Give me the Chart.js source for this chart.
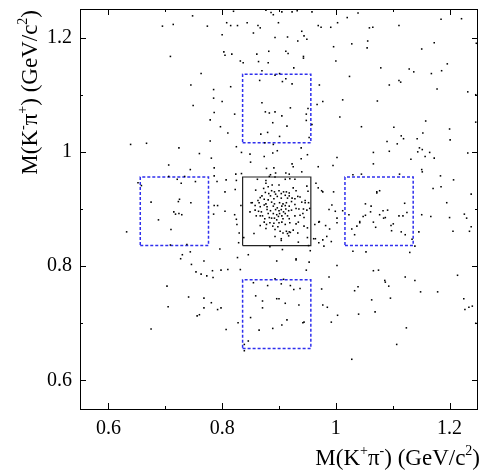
<!DOCTYPE html>
<html>
<head>
<meta charset="utf-8">
<script src="https://cdn.jsdelivr.net/npm/chart.js@4.4.1/dist/chart.umd.min.js"></script>
<style>
  html, body { margin: 0; padding: 0; background: #fff; }
</style>
</head>
<body>
<canvas id="c" width="482" height="470"></canvas>
<script>
// axis ranges and ticks
const axisMin = 0.55, axisMax = 1.25;
const majorTicks = [0.6, 0.8, 1.0, 1.2];
const majorLabels = ['0.6', '0.8', '1', '1.2'];
const minorTicks = [0.7, 0.9, 1.1];

// mass windows (GeV/c^2): signal and the two sidebands
const sigWin = [0.836, 0.956];
const loSide = [0.656, 0.776];
const hiSide = [1.016, 1.136];

// events [M(K+pi-), M(K-pi+)], grouped by area
const evUpperLeft = [
  [0.748,1.238],[0.820,1.246],[0.877,1.248],[0.886,1.244],[0.890,1.240],[0.695,1.220],[0.714,1.223],[0.774,1.220],
  [0.808,1.226],[0.815,1.221],[0.827,1.221],[0.844,1.226],[0.863,1.221],[0.867,1.217],[0.899,1.226],[0.855,1.208],
  [0.800,1.205],[0.893,1.200],[0.803,1.175],[0.805,1.169],[0.817,1.171],[0.861,1.171],[0.882,1.176],[0.709,1.167],
  [0.832,1.159],[0.837,1.156],[0.864,1.158],[0.881,1.156],[0.870,1.142],[0.763,1.137],[0.893,1.134],[0.866,1.125],
  [0.745,1.117],[0.815,1.114],[0.785,1.109],[0.785,1.094],[0.800,1.088],[0.870,1.086],[0.749,1.081],[0.786,1.069],
  [0.822,1.066],[0.876,1.070],[0.883,1.068],[0.893,1.070],[0.779,1.056],[0.889,1.051],[0.797,1.044],[0.810,1.033],
  [0.868,1.031],[0.880,1.034],[0.779,1.019],[0.639,1.013],[0.667,1.015],[0.724,1.007],[0.825,1.009],[0.875,1.016],
  [0.890,1.013],[0.760,0.997],[0.834,0.999],[0.849,0.996],[0.889,0.998],[0.897,1.002],[0.781,0.989],[0.874,0.992],
  [0.850,0.982],[0.706,0.977],[0.744,0.969],[0.786,0.972],[0.878,0.971],[0.891,0.972],[0.885,0.960],[0.894,0.963],
  [0.824,0.961],[0.834,0.962],[0.706,0.957],[0.734,0.957],[0.721,0.952],[0.786,0.958],[0.652,0.946],[0.658,0.941],
  [0.728,0.945],[0.753,0.948],[0.791,0.948],[0.807,0.951],[0.825,0.950],[0.805,0.930],[0.823,0.934],[0.675,0.912],
  [0.725,0.917],[0.723,0.913],[0.745,0.911],[0.786,0.906],[0.792,0.906],[0.833,0.906]
];
const evUpperRight = [
  [0.905,1.245],[0.923,1.245],[0.932,1.247],[0.958,1.245],[1.039,1.243],[1.020,1.235],[1.003,1.226],[0.969,1.221],
  [0.974,1.218],[0.991,1.218],[1.059,1.217],[1.065,1.218],[1.111,1.221],[1.185,1.232],[1.221,1.233],[0.940,1.211],
  [0.944,1.203],[0.949,1.197],[0.933,1.194],[0.915,1.201],[1.056,1.194],[1.028,1.189],[0.996,1.184],[1.055,1.182],
  [1.173,1.191],[1.151,1.180],[1.247,1.190],[0.912,1.176],[0.916,1.172],[0.943,1.167],[0.943,1.164],[1.000,1.159],
  [1.196,1.154],[0.926,1.147],[1.079,1.147],[1.129,1.145],[1.137,1.140],[1.168,1.137],[1.186,1.142],[0.901,1.137],
  [1.024,1.132],[0.912,1.128],[0.906,1.123],[0.923,1.119],[0.971,1.117],[1.094,1.117],[1.111,1.125],[1.114,1.122],
  [1.178,1.110],[1.232,1.105],[1.246,1.100],[1.012,1.091],[1.073,1.089],[0.977,1.088],[0.967,1.083],[0.920,1.077],
  [0.951,1.076],[0.948,1.066],[0.905,1.063],[1.007,1.061],[0.948,1.055],[0.958,1.048],[0.914,1.045],[1.045,1.044],
  [1.102,1.043],[1.158,1.054],[1.246,1.052],[1.200,1.040],[1.153,1.033],[1.115,1.028],[1.119,1.023],[1.090,1.018],
  [1.108,1.014],[1.143,1.023],[1.201,1.021],[0.901,1.027],[0.953,1.025],[0.939,1.007],[1.066,0.999],[1.094,1.001],
  [1.144,1.000],[1.147,1.007],[1.152,1.004],[1.165,0.999],[1.157,0.992],[1.173,0.989],[1.232,0.998],[0.950,0.995],
  [0.939,0.988],[1.002,0.990],[1.132,0.987],[0.923,0.979],[0.925,0.974],[0.969,0.974],[0.995,0.976],[1.066,0.979],
  [1.151,0.969],[1.152,0.965],[0.912,0.963],[0.918,0.961],[0.940,0.965],[1.030,0.960],[1.045,0.961],[1.112,0.961],
  [1.184,0.958],[1.207,0.951],[0.965,0.945],[0.969,0.937],[0.975,0.932],[0.977,0.930],[0.996,0.930],[1.072,0.930],
  [1.077,0.932],[1.072,0.928],[1.171,0.936],[1.185,0.939],[1.238,0.926],[0.993,0.907],[1.052,0.909],[1.062,0.905],
  [1.121,0.910],[1.195,0.911]
];
const evLowerLeft = [
  [0.785,0.891],[0.805,0.896],[0.822,0.890],[0.825,0.882],[0.826,0.873],[0.715,0.895],[0.718,0.891],[0.724,0.892],
  [0.729,0.890],[0.688,0.881],[0.632,0.860],[0.710,0.864],[0.830,0.858],[0.829,0.841],[0.709,0.837],[0.738,0.838],
  [0.796,0.830],[0.884,0.834],[0.744,0.825],[0.730,0.820],[0.727,0.813],[0.827,0.815],[0.846,0.820],[0.768,0.809],
  [0.896,0.809],[0.746,0.803],[0.754,0.790],[0.763,0.786],[0.773,0.783],[0.783,0.792],[0.798,0.793],[0.810,0.794],
  [0.832,0.794],[0.784,0.780],[0.893,0.778],[0.855,0.771],[0.880,0.766],[0.703,0.765],[0.741,0.746],[0.768,0.744],
  [0.859,0.748],[0.896,0.743],[0.871,0.739],[0.781,0.736],[0.705,0.729],[0.768,0.727],[0.798,0.727],[0.792,0.724],
  [0.871,0.727],[0.756,0.713],[0.760,0.715],[0.850,0.710],[0.828,0.701],[0.675,0.690],[0.807,0.689],[0.865,0.688],
  [0.889,0.691],[0.846,0.669],[0.839,0.663],[0.839,0.652]
];
const evLowerRight = [
  [0.988,0.899],[0.999,0.896],[1.012,0.897],[1.023,0.890],[1.048,0.887],[1.052,0.889],[1.061,0.895],[1.077,0.890],
  [1.083,0.897],[1.091,0.898],[1.084,0.884],[1.087,0.885],[1.111,0.888],[1.118,0.888],[1.125,0.894],[1.151,0.890],
  [1.167,0.887],[1.200,0.885],[1.226,0.891],[1.230,0.884],[1.002,0.884],[1.002,0.876],[0.970,0.877],[0.971,0.878],
  [0.963,0.873],[0.982,0.871],[1.042,0.878],[1.042,0.876],[1.037,0.870],[1.028,0.865],[1.066,0.877],[1.070,0.868],
  [1.097,0.871],[1.101,0.874],[1.098,0.862],[1.115,0.860],[1.122,0.855],[1.146,0.860],[1.206,0.861],[1.235,0.861],
  [1.238,0.869],[0.989,0.865],[0.984,0.852],[0.961,0.848],[0.964,0.848],[0.970,0.841],[0.977,0.846],[0.992,0.843],
  [0.979,0.835],[1.033,0.855],[1.134,0.847],[1.139,0.835],[1.030,0.826],[1.053,0.825],[1.130,0.824],[0.906,0.829],
  [0.955,0.827],[0.930,0.813],[0.930,0.811],[0.953,0.807],[1.002,0.801],[0.948,0.793],[1.066,0.792],[1.075,0.793],
  [1.122,0.781],[1.139,0.775],[1.214,0.784],[0.988,0.781],[1.086,0.775],[1.087,0.772],[1.093,0.765],[1.039,0.764],
  [1.033,0.757],[1.149,0.755],[1.179,0.755],[0.904,0.769],[0.920,0.766],[0.926,0.759],[0.937,0.761],[0.908,0.777],
  [0.975,0.760],[0.900,0.743],[0.911,0.735],[0.935,0.732],[0.977,0.732],[0.985,0.728],[1.063,0.741],[1.096,0.744],
  [1.225,0.743],[1.234,0.728],[1.227,0.724],[1.240,0.730],[1.069,0.720],[1.040,0.716],[1.003,0.714],[0.914,0.706],
  [0.905,0.697],[0.942,0.701],[0.944,0.702],[0.992,0.702],[1.124,0.692],[1.246,0.700],[1.107,0.663],[1.028,0.637]
];
// inside the signal box
const evSignal = [
  [0.862,0.952],[0.883,0.957],[0.893,0.956],[0.911,0.952],[0.919,0.953],[0.928,0.952],[0.877,0.950],[0.877,0.945],
  [0.881,0.939],[0.888,0.942],[0.900,0.942],[0.925,0.937],[0.949,0.940],[0.873,0.936],[0.859,0.933],[0.887,0.932],
  [0.892,0.930],[0.900,0.932],[0.908,0.930],[0.913,0.930],[0.918,0.928],[0.930,0.932],[0.951,0.931],[0.876,0.929],
  [0.882,0.927],[0.894,0.926],[0.904,0.927],[0.870,0.923],[0.885,0.923],[0.897,0.922],[0.911,0.924],[0.918,0.923],
  [0.923,0.919],[0.928,0.918],[0.937,0.921],[0.867,0.920],[0.874,0.917],[0.881,0.916],[0.891,0.918],[0.904,0.919],
  [0.915,0.919],[0.933,0.922],[0.946,0.915],[0.952,0.911],[0.853,0.911],[0.863,0.915],[0.851,0.911],[0.865,0.911],
  [0.877,0.909],[0.887,0.912],[0.892,0.909],[0.901,0.911],[0.907,0.909],[0.913,0.911],[0.922,0.913],[0.940,0.912],
  [0.946,0.911],[0.858,0.906],[0.867,0.904],[0.879,0.904],[0.890,0.905],[0.897,0.902],[0.905,0.905],[0.911,0.906],
  [0.918,0.905],[0.928,0.908],[0.874,0.907],[0.849,0.895],[0.858,0.898],[0.864,0.896],[0.869,0.895],[0.879,0.899],
  [0.885,0.897],[0.894,0.899],[0.900,0.897],[0.904,0.899],[0.908,0.895],[0.912,0.900],[0.917,0.897],[0.922,0.898],
  [0.930,0.901],[0.935,0.900],[0.943,0.900],[0.949,0.898],[0.954,0.901],[0.881,0.892],[0.890,0.892],[0.901,0.892],
  [0.911,0.892],[0.896,0.890],[0.860,0.888],[0.867,0.888],[0.871,0.888],[0.883,0.885],[0.887,0.884],[0.892,0.884],
  [0.899,0.887],[0.905,0.888],[0.915,0.888],[0.928,0.888],[0.937,0.889],[0.942,0.892],[0.944,0.885],[0.875,0.883],
  [0.907,0.883],[0.918,0.883],[0.896,0.881],[0.874,0.877],[0.878,0.873],[0.884,0.876],[0.891,0.875],[0.900,0.876],
  [0.905,0.877],[0.911,0.873],[0.919,0.876],[0.930,0.874],[0.934,0.877],[0.867,0.871],[0.889,0.870],[0.898,0.869],
  [0.944,0.870],[0.950,0.867],[0.877,0.866],[0.893,0.864],[0.902,0.861],[0.913,0.861],[0.918,0.860],[0.920,0.859],
  [0.925,0.863],[0.856,0.857],[0.907,0.858],[0.915,0.857],[0.933,0.858],[0.893,0.852],[0.904,0.848],[0.917,0.853],
  [0.838,0.850],[0.950,0.850],[0.904,0.845],[0.934,0.842],[0.952,0.836]
];

const allEvents = [].concat(evUpperLeft, evUpperRight, evLowerLeft, evLowerRight, evSignal)
  .map(p => ({ x: p[0], y: p[1] }));

function box(xw, yw) {
  return [
    { x: xw[0], y: yw[0] }, { x: xw[1], y: yw[0] }, { x: xw[1], y: yw[1] },
    { x: xw[0], y: yw[1] }, { x: xw[0], y: yw[0] }
  ];
}

const SERIF = '"Liberation Serif", "DejaVu Serif", serif';
const sideStyle = { showLine: true, fill: false, pointRadius: 0, borderColor: '#2f2fee', borderWidth: 1.5, borderDash: [3, 2] };

// frame with inward ticks on all four sides
const framePlugin = {
  id: 'frame',
  afterDraw(chart) {
    const { ctx, chartArea: a, scales } = chart;
    ctx.save();
    ctx.strokeStyle = '#000';
    ctx.lineWidth = 1;
    ctx.strokeRect(Math.round(a.left) + 0.5, Math.round(a.top) + 0.5, Math.round(a.right - a.left) - 1, Math.round(a.bottom - a.top));
    const tick = (v, len) => {
      const px = Math.round(scales.x.getPixelForValue(v)) + 0.5;
      const py = Math.round(scales.y.getPixelForValue(v)) + 0.5;
      ctx.beginPath();
      ctx.moveTo(px, a.bottom); ctx.lineTo(px, a.bottom - len);
      ctx.moveTo(px, a.top); ctx.lineTo(px, a.top + len);
      ctx.moveTo(a.left, py); ctx.lineTo(a.left + len, py);
      ctx.moveTo(a.right, py); ctx.lineTo(a.right - len, py);
      ctx.stroke();
    };
    majorTicks.forEach(v => tick(v, 6));
    minorTicks.forEach(v => tick(v, 3));

    // axis titles with superscripts
    const size = 23;
    const drawTitle = parts => {
      const sup = Math.round(size * 0.62);
      let w = 0;
      parts.forEach(p => { ctx.font = (p[1] ? sup : size) + 'px ' + SERIF; w += ctx.measureText(p[0]).width; });
      let x = -w;
      ctx.fillStyle = '#000';
      ctx.textBaseline = 'alphabetic';
      ctx.textAlign = 'left';
      parts.forEach(p => {
        ctx.font = (p[1] ? sup : size) + 'px ' + SERIF;
        ctx.fillText(p[0], x, p[1] ? -size * 0.42 : 0);
        x += ctx.measureText(p[0]).width;
      });
    };
    ctx.save();
    ctx.translate(480, 465);
    drawTitle([['M(K', 0], ['+', 1], ['π', 0], ['-', 1], [') (GeV/c', 0], ['2', 1], [')', 0]]);
    ctx.restore();
    ctx.save();
    ctx.translate(37, 10);
    ctx.rotate(-Math.PI / 2);
    drawTitle([['M(K', 0], ['-', 1], ['π', 0], ['+', 1], [') (GeV/c', 0], ['2', 1], [')', 0]]);
    ctx.restore();
    ctx.restore();
  }
};

const axisBase = {
  type: 'linear', min: axisMin, max: axisMax,
  grid: { display: false, drawTicks: false },
  border: { display: false },
  afterBuildTicks: s => { s.ticks = majorTicks.map(v => ({ value: v })); },
  ticks: { color: '#000', font: { family: SERIF, size: 20 }, padding: 8, callback: (v, i) => majorLabels[i] }
};

new Chart(document.getElementById('c'), {
  type: 'scatter',
  data: {
    datasets: [
      { data: allEvents, pointStyle: 'rect', pointRadius: 1.1, backgroundColor: '#000', borderWidth: 0 },
      Object.assign({ data: box(sigWin, sigWin), showLine: true, fill: false, pointRadius: 0, borderColor: '#222', borderWidth: 1.2 }),
      Object.assign({ data: box(loSide, sigWin) }, sideStyle),
      Object.assign({ data: box(hiSide, sigWin) }, sideStyle),
      Object.assign({ data: box(sigWin, hiSide) }, sideStyle),
      Object.assign({ data: box(sigWin, loSide) }, sideStyle)
    ]
  },
  options: {
    responsive: false,
    animation: false,
    events: [],
    layout: { padding: { top: 9, right: 3, left: 0, bottom: 0 } },
    plugins: { legend: { display: false }, tooltip: { enabled: false } },
    scales: {
      x: Object.assign({}, axisBase, { afterFit: s => { s.height = 61; s.paddingLeft = 0; s.paddingRight = 0; } }),
      y: Object.assign({}, axisBase, { afterFit: s => { s.width = 80; s.paddingTop = 0; s.paddingBottom = 0; } })
    }
  },
  plugins: [framePlugin]
});
</script>
</body>
</html>
